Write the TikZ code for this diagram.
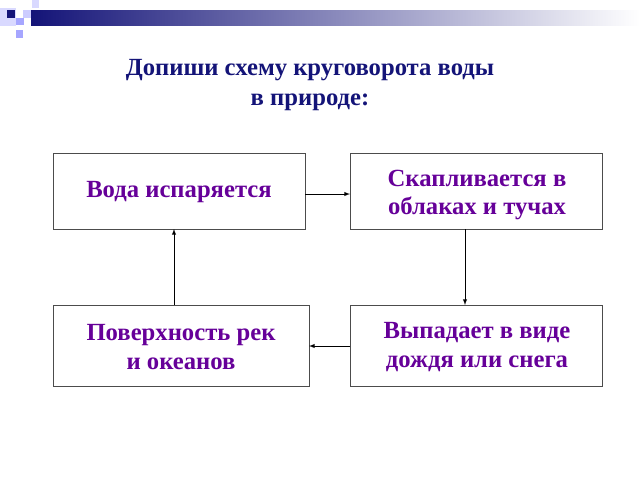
\documentclass[tikz,border=0pt]{standalone}
\usepackage{fontspec}
\setmainfont{Liberation Serif}
\begin{document}
\begin{tikzpicture}[x=0.75pt,y=-0.75pt,
 box/.style={draw=black!70,line width=0.6pt,fill=white},
 lbl/.style={text=violet!80!blue,font=\bfseries\fontsize{18.5}{21.5}\selectfont,align=center},
 arr/.style={-latex,line width=0.5pt}]
\useasboundingbox (0,0) rectangle (640,480);
\definecolor{navy}{RGB}{20,20,120}
\shade[left color=navy,right color=white] (31,10) rectangle (640,25);
\fill[blue!15!white] (0,8) rectangle (16,26);
\fill[navy] (7,10) rectangle (15,18);
\fill[blue!20!white] (23,10) rectangle (31,18);
\fill[blue!15!white] (32,0) rectangle (39,8);
\fill[blue!35!white] (16,18) rectangle (24,25);
\fill[blue!35!white] (16,30) rectangle (23,38);
\node[text=navy,font=\bfseries\fontsize{18.5}{22.5}\selectfont,align=center] (t) at (310,85) {Допиши схему круговорота воды\\в природе:};
\draw[box] (53,153) rectangle (305,229); \node[lbl] (a) at (179,192) {Вода испаряется};
\draw[box] (350,153) rectangle (602,229); \node[lbl] (b) at (477,195) {Скапливается в\\ облаках и тучах};
\draw[box] (53,305) rectangle (309,386); \node[lbl] (c) at (181,347) {Поверхность рек\\и океанов};
\draw[box] (350,305) rectangle (602,386); \node[lbl] (d) at (477,347) {Выпадает в виде\\ дождя или снега};
\coordinate (a1) at (305,194); \coordinate (b1) at (350,194);
\coordinate (b2) at (465,229); \coordinate (d2) at (465,305);
\coordinate (d3) at (350,346); \coordinate (c3) at (309,346);
\coordinate (c4) at (174,305); \coordinate (a4) at (174,229);
\draw[arr] (a1) -- (b1);
\draw[arr] (b2) -- (d2);
\draw[arr] (d3) -- (c3);
\draw[arr] (c4) -- (a4);
\end{tikzpicture}
\end{document}
